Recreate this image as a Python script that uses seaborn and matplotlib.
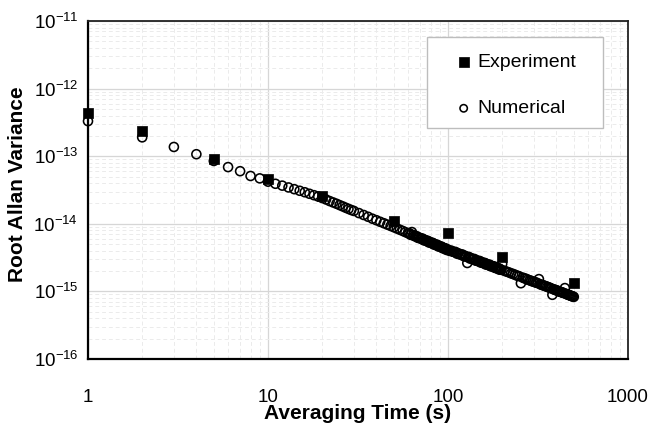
import numpy as np
import pandas as pd
import matplotlib
matplotlib.use("Agg")
import matplotlib.pyplot as plt
from matplotlib.patches import Rectangle
import seaborn as sns

# ---------------- data ----------------
exp_tau = [1, 2, 5, 10, 20, 50, 100, 200, 500]
exp_val = [4.4e-13, 2.36e-13, 9.1e-14, 4.6e-14, 2.6e-14, 1.1e-14, 7.3e-15, 3.2e-15, 1.34e-15]

num_tau = [1, 2, 3, 4, 5, 6, 7, 8, 9, 10,
           11, 12, 13, 14, 15, 16, 17, 18, 19, 20,
           21, 22, 23, 24, 25, 26, 27, 28, 29, 30,
           32, 34, 36, 38, 40, 42, 44, 46, 48, 50,
           52, 54, 56, 58, 60,
           61, 62, 63, 64, 65, 66, 67, 68, 69, 70,
           71, 72, 73, 74, 75, 76, 77, 78, 79, 80,
           81, 82, 83, 84, 85, 86, 87, 88, 89, 90,
           91, 92, 93, 94, 95, 96, 97, 98, 99, 100,
           102, 104, 106, 108, 110, 112, 114, 116, 118, 120,
           122, 124, 126, 128, 130, 132, 134, 136, 138, 140,
           142, 144, 146, 148, 150, 152, 154, 156, 158, 160,
           162, 164, 166, 168, 170, 172, 174, 176, 178, 180,
           182, 184, 186, 188, 190, 192, 194, 196, 198, 200,
           206, 212, 218, 224, 230, 236, 242, 248, 254, 260,
           266, 272, 278, 284, 290, 296, 302, 308, 314, 320,
           326, 332, 338, 344, 350, 356, 362, 368, 374, 380,
           386, 392, 398, 404, 410, 416, 422, 428, 434, 440,
           446, 452, 458, 464, 470, 476, 482, 488, 494, 500]
# values in units of 1e-15
num_val_e15 = [330, 190, 137, 107, 85, 69, 60, 51, 47, 42,
               39.1, 36.7, 34.5, 32.5, 30.8, 29.3, 27.8, 26.5, 25.3, 24.1,
               22.9, 21.7, 20.7, 19.8, 18.9, 18.1, 17.3, 16.6, 16.0, 15.5,
               14.4, 13.5, 12.7, 11.9, 11.3, 10.7, 10.2, 9.72, 9.29, 8.90,
               8.52, 8.17, 7.84, 7.53, 7.25,
               7.26, 6.86, 7.55, 6.83, 6.58, 6.53, 6.56, 6.20, 6.28, 6.07,
               6.03, 6.06, 5.73, 5.82, 5.62, 5.59, 5.62, 5.32, 5.41, 5.23,
               5.21, 5.24, 4.97, 5.05, 4.88, 4.87, 4.90, 4.65, 4.73, 4.58,
               4.57, 4.60, 4.37, 4.44, 4.31, 4.30, 4.33, 4.11, 4.19, 4.10,
               3.98, 4.02, 3.87, 3.83, 3.84, 3.62, 3.67, 3.53, 3.51, 3.52,
               3.33, 3.37, 3.25, 2.63, 3.25, 3.07, 3.12, 3.01, 3.00, 3.02,
               2.86, 2.90, 2.81, 2.80, 2.82, 2.67, 2.71, 2.63, 2.62, 2.64,
               2.50, 2.55, 2.47, 2.46, 2.49, 2.36, 2.40, 2.33, 2.33, 2.35,
               2.23, 2.27, 2.20, 2.20, 2.22, 2.11, 2.15, 2.09, 2.09, 2.55,
               2.01, 1.96, 1.91, 1.85, 1.81, 1.76, 1.71, 1.68, 1.32, 1.60,
               1.56, 1.53, 1.49, 1.46, 1.43, 1.40, 1.38, 1.35, 1.33, 1.52,
               1.27, 1.25, 1.23, 1.21, 1.19, 1.17, 1.15, 1.13, 1.11, 0.89,
               1.075, 1.06, 1.04, 1.03, 1.01, 0.995, 0.985, 0.97, 0.955, 0.945,
               1.12, 0.92, 0.905, 0.895, 0.885, 0.87, 0.86, 0.85, 0.84, 0.83]

x_ticks = [1, 10, 100, 1000]
x_ticklabels = ["1", "10", "100", "1000"]
y_exps = [-16, -15, -14, -13, -12, -11]

exp_df = pd.DataFrame({"tau": exp_tau, "val": exp_val})
num_df = pd.DataFrame({"tau": num_tau, "val": np.array(num_val_e15) * 1e-15})

# ---------------- style ----------------
sns.set_style("white")
plt.rcParams["font.family"] = ["Liberation Sans", "DejaVu Sans"]
plt.rcParams["mathtext.fontset"] = "custom"
plt.rcParams["mathtext.rm"] = "Liberation Sans"
plt.rcParams["mathtext.it"] = "Liberation Sans:italic"
plt.rcParams["mathtext.bf"] = "Liberation Sans:bold"
plt.rcParams["text.color"] = "black"
plt.rcParams["axes.labelcolor"] = "black"
plt.rcParams["xtick.color"] = "black"
plt.rcParams["ytick.color"] = "black"

fig = plt.figure(figsize=(6.52, 4.23), dpi=100)
ax = fig.add_axes([88 / 652, 1 - 359 / 423, 540 / 652, 338 / 423])

sns.scatterplot(data=num_df, x="tau", y="val", ax=ax, marker="o",
                s=42, facecolors="none", edgecolor="black", linewidth=1.15,
                color="black", label="Numerical", zorder=3, clip_on=False)
ax.collections[-1].set_facecolor("none")
sns.scatterplot(data=exp_df, x="tau", y="val", ax=ax, marker="s",
                s=62, color="black", edgecolor="black", linewidth=0.5,
                label="Experiment", zorder=4, clip_on=False)

ax.set_xscale("log")
ax.set_yscale("log")
ax.set_xlim(1, 1000)
ax.set_ylim(1e-16, 1e-11)

ax.set_xticks(x_ticks)
ax.set_xticklabels(x_ticklabels)
ax.set_yticks([10.0 ** e for e in y_exps])
ax.set_yticklabels([r"$\mathregular{10^{%d}}$" % e for e in y_exps])

# grid
ax.grid(True, which="major", color="#d6d6d6", linewidth=0.9, linestyle="-")
ax.grid(True, which="minor", color="#ebebeb", linewidth=0.7, linestyle=(0, (4, 3)))
ax.set_axisbelow(True)

ax.tick_params(axis="x", which="major", direction="out", length=6.5, width=1.3,
               pad=15, labelsize=13.5, color="black", labelcolor="black")
ax.tick_params(axis="y", which="major", direction="out", length=3, width=1.3,
               pad=4, labelsize=13.5, color="black", labelcolor="black")
ax.tick_params(which="minor", length=0)

for side in ["left", "bottom"]:
    ax.spines[side].set_color("black")
    ax.spines[side].set_linewidth(1.6)
for side in ["top", "right"]:
    ax.spines[side].set_color("#222222")
    ax.spines[side].set_linewidth(1.3)

ax.set_xlabel("Averaging Time (s)", fontsize=15, fontweight="bold", color="black")
ax.set_ylabel("Root Allan Variance", fontsize=15, fontweight="bold", color="black")
ax.xaxis.set_label_coords(0.5, (359 - 413) / 338)
ax.xaxis.label.set_va("center")
ax.yaxis.set_label_coords((18 - 88) / 540, (359 - 184) / 338)
ax.yaxis.label.set_va("center")

# legend
handles, labels = ax.get_legend_handles_labels()
order = [labels.index("Experiment"), labels.index("Numerical")]
leg = ax.legend([handles[i] for i in order], [labels[i] for i in order],
                loc="upper left", bbox_to_anchor=((452 - 88) / 540, (359 - 53) / 338),
                frameon=False, fontsize=14, labelspacing=1.5,
                handletextpad=0.1, handlelength=1.2, borderpad=0, borderaxespad=0)
for t in leg.get_texts():
    t.set_color("black")
lh = leg.legend_handles
lh[0].set_sizes([62])
lh[1].set_sizes([28])
lh[1].set_facecolor("none")
lh[1].set_edgecolor("black")

box = Rectangle(((427 - 88) / 540, (359 - 128) / 338), (603 - 427) / 540, (128 - 37) / 338,
                transform=ax.transAxes, facecolor="white", edgecolor="#bdbdbd",
                linewidth=1.0, zorder=5)
ax.add_patch(box)
leg.set_zorder(6)

fig.savefig("out.png", dpi=100)
